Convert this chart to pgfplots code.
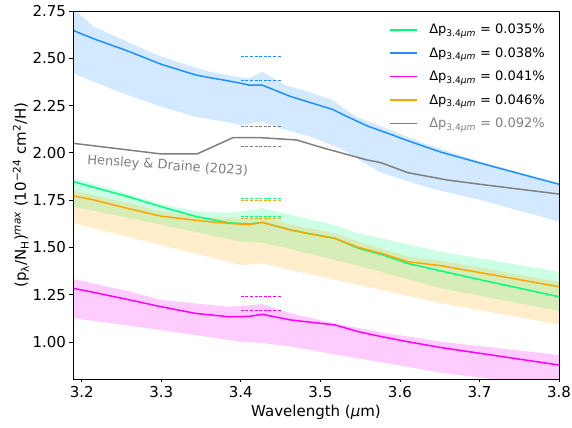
\documentclass[border=0pt]{standalone}
\usepackage{pgfplots}
\pgfplotsset{compat=1.18}
\usepackage{fontspec}
\setmainfont{DejaVu Sans}
\definecolor{cgreen}{RGB}{0,255,127}
\definecolor{cblue}{RGB}{30,144,255}
\definecolor{cmag}{RGB}{255,0,255}
\definecolor{corange}{RGB}{255,165,0}
\definecolor{cgray}{RGB}{128,128,128}
\newcommand{\dpp}{Δp\textsubscript{3.4\textit{μm}}}
\begin{document}
\begin{tikzpicture}
\begin{axis}[name=ax,
  scale only axis, width=486pt, height=368pt,
  xmin=3.189, xmax=3.8, ymin=0.804, ymax=2.75,
  xtick={3.2,3.3,3.4,3.5,3.6,3.7,3.8},
  ytick={1.00,1.25,1.50,1.75,2.00,2.25,2.50,2.75},
  xticklabel style={/pgf/number format/.cd, fixed, fixed zerofill, precision=1},
  yticklabel style={/pgf/number format/.cd, fixed, fixed zerofill, precision=2},
  /pgf/number format/assume math mode=true,
  tick align=outside, tick pos=left, major tick length=3.5pt,
  every tick/.style={black, line width=0.8pt},
  axis line style={line width=0.8pt},
  tick label style={font=\fontsize{15}{18}\selectfont},
  xlabel={Wavelength (\textit{μ}m)},
  ylabel={(p\textsubscript{λ}/N\textsubscript{H})\textsuperscript{\textit{max}} (10\textsuperscript{−24} cm\textsuperscript{2}/H)},
  every axis x label/.style={at={(axis description cs:0.5,-0.092)}, anchor=center, font=\fontsize{15}{18}\selectfont},
  every axis y label/.style={at={(axis description cs:-0.107,0.5)}, rotate=90, anchor=center, font=\fontsize{15}{18}\selectfont},
  legend style={at={(axis description cs:1,1)}, anchor=north east, xshift=-9pt, yshift=-9pt,
    draw=none, fill=none, font=\fontsize{13}{15}\selectfont, row sep=8.3pt,
    /tikz/every odd column/.append style={column sep=10pt}},
  legend cell align=left,
  legend image code/.code={\draw[#1, line width=1.5pt] (0pt,0pt) -- (27pt,0pt);},
]
% ---- bands ----
\addplot[forget plot, draw=none, fill=cblue, fill opacity=0.2] coordinates {
(3.19,2.76) (3.215,2.667) (3.257,2.588) (3.30,2.508) (3.36,2.429) (3.393,2.403) (3.41,2.394) (3.427,2.429) (3.455,2.359) (3.485,2.323) (3.515,2.279) (3.545,2.191) (3.578,2.138) (3.63,2.05) (3.70,1.955) (3.80,1.838)
(3.8,1.636) (3.702,1.75) (3.639,1.812) (3.576,1.895) (3.55,1.96) (3.527,2.02) (3.488,2.085) (3.45,2.129) (3.427,2.165) (3.40,2.147) (3.385,2.161) (3.343,2.191) (3.30,2.244) (3.257,2.306) (3.215,2.376) (3.19,2.42)
} -- cycle;
\addplot[forget plot, draw=none, fill=cgreen, fill opacity=0.2] coordinates {
(3.19,1.862) (3.215,1.835) (3.257,1.785) (3.30,1.728) (3.343,1.692) (3.385,1.682) (3.40,1.689) (3.427,1.707) (3.463,1.671) (3.518,1.618) (3.548,1.574) (3.652,1.477) (3.80,1.371)
(3.8,1.163) (3.652,1.284) (3.55,1.40) (3.463,1.49) (3.427,1.525) (3.40,1.53) (3.30,1.62) (3.19,1.715)
} -- cycle;
\addplot[forget plot, draw=none, fill=cmag, fill opacity=0.2] coordinates {
(3.19,1.331) (3.257,1.27) (3.30,1.222) (3.385,1.186) (3.40,1.19) (3.427,1.2) (3.463,1.151) (3.518,1.098) (3.577,1.05) (3.652,1.001) (3.8,0.931)
(3.8,0.76) (3.652,0.837) (3.463,0.975) (3.427,0.995) (3.40,1.001) (3.30,1.063) (3.19,1.125)
} -- cycle;
\addplot[forget plot, draw=none, fill=corange, fill opacity=0.2] coordinates {
(3.19,1.80) (3.257,1.737) (3.30,1.69) (3.35,1.66) (3.385,1.655) (3.41,1.65) (3.427,1.665) (3.463,1.62) (3.518,1.575) (3.548,1.53) (3.61,1.452) (3.652,1.43) (3.8,1.318)
(3.8,1.093) (3.652,1.204) (3.55,1.30) (3.463,1.38) (3.427,1.415) (3.40,1.407) (3.30,1.512) (3.19,1.627)
} -- cycle;
% ---- dashed markers ----
\addplot[forget plot, cblue, line width=0.8pt, dash pattern=on 3pt off 1.6pt] coordinates {(3.40,2.508) (3.45,2.508)};
\addplot[forget plot, cblue, line width=0.8pt, dash pattern=on 3pt off 1.6pt] coordinates {(3.40,2.385) (3.45,2.385)};
\addplot[forget plot, cgray, line width=0.8pt, dash pattern=on 3pt off 1.6pt] coordinates {(3.40,2.142) (3.45,2.142)};
\addplot[forget plot, cgray, line width=0.8pt, dash pattern=on 3pt off 1.6pt] coordinates {(3.40,2.036) (3.45,2.036)};
\addplot[forget plot, cgreen, line width=0.8pt, dash pattern=on 3pt off 1.6pt] coordinates {(3.40,1.761) (3.45,1.761)};
\addplot[forget plot, corange, line width=0.8pt, dash pattern=on 3pt off 1.6pt] coordinates {(3.40,1.751) (3.45,1.751)};
\addplot[forget plot, cgreen, line width=0.8pt, dash pattern=on 3pt off 1.6pt] coordinates {(3.40,1.662) (3.45,1.662)};
\addplot[forget plot, corange, line width=0.8pt, dash pattern=on 3pt off 1.6pt] coordinates {(3.40,1.652) (3.45,1.652)};
\addplot[forget plot, cmag, line width=0.8pt, dash pattern=on 3pt off 1.6pt] coordinates {(3.40,1.239) (3.45,1.239)};
\addplot[forget plot, cmag, line width=0.8pt, dash pattern=on 3pt off 1.6pt] coordinates {(3.40,1.165) (3.45,1.165)};
% ---- lines ----
\addplot[cgreen, line width=1.5pt] coordinates {
(3.19,1.847) (3.215,1.818) (3.257,1.770) (3.30,1.715) (3.343,1.664) (3.385,1.630) (3.41,1.624) (3.427,1.632) (3.463,1.592) (3.484,1.574) (3.518,1.548) (3.548,1.495) (3.577,1.462) (3.61,1.415) (3.652,1.375) (3.70,1.33) (3.80,1.239)};
\addlegendentry{\dpp{} = 0.035\%}
\addplot[cblue, line width=1.5pt] coordinates {
(3.19,2.646) (3.215,2.603) (3.257,2.540) (3.30,2.468) (3.343,2.412) (3.36,2.398) (3.377,2.386) (3.40,2.368) (3.41,2.358) (3.427,2.358) (3.463,2.297) (3.488,2.265) (3.515,2.230) (3.534,2.191) (3.559,2.142) (3.585,2.103) (3.61,2.064) (3.652,2.003) (3.70,1.947) (3.75,1.89) (3.80,1.834)};
\addlegendentry{\dpp{} = 0.038\%}
\addplot[cmag, line width=1.5pt] coordinates {
(3.19,1.283) (3.215,1.262) (3.257,1.225) (3.30,1.186) (3.343,1.151) (3.385,1.133) (3.41,1.135) (3.427,1.146) (3.463,1.116) (3.518,1.09) (3.548,1.054) (3.577,1.028) (3.61,1.001) (3.652,0.97) (3.8,0.878)};
\addlegendentry{\dpp{} = 0.041\%}
\addplot[corange, line width=1.5pt] coordinates {
(3.19,1.772) (3.215,1.751) (3.257,1.707) (3.30,1.665) (3.35,1.640) (3.385,1.627) (3.41,1.62) (3.427,1.632) (3.463,1.592) (3.484,1.574) (3.518,1.548) (3.548,1.50) (3.577,1.468) (3.61,1.424) (3.652,1.403) (3.8,1.292)};
\addlegendentry{\dpp{} = 0.046\%}
\addplot[cgray, line width=1.5pt] coordinates {
(3.19,2.05) (3.30,1.994) (3.345,1.994) (3.39,2.08) (3.425,2.08) (3.47,2.068) (3.505,2.024) (3.559,1.962) (3.576,1.948) (3.61,1.895) (3.66,1.856) (3.702,1.833) (3.8,1.782)};
\addlegendentry{\textcolor{cgray}{\dpp{} = 0.092\%}}
\node[rotate=-4, text=cgray, font=\fontsize{13}{15}\selectfont] at (axis cs:3.308,1.930) {Hensley \& Draine (2023)};
\end{axis}
\pgfresetboundingbox
\path[use as bounding box] ([xshift=-73pt,yshift=-49pt]ax.south west) rectangle ([xshift=13pt,yshift=11pt]ax.north east);
\end{tikzpicture}
\end{document}
